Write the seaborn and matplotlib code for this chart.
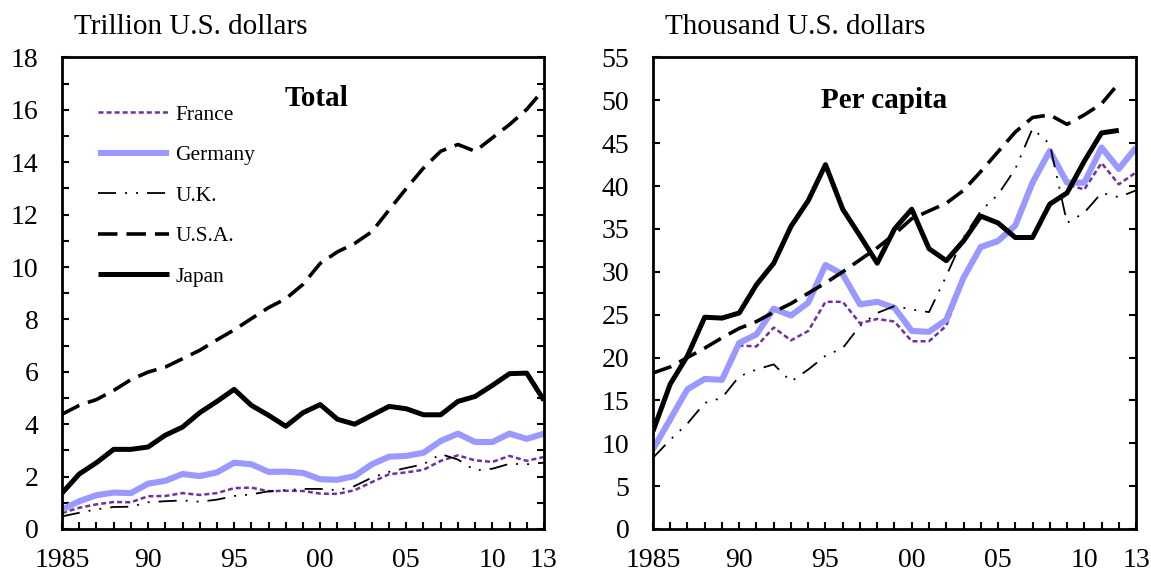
import numpy as np
import pandas as pd
import matplotlib.pyplot as plt
import seaborn as sns

#%% data
years = list(range(1985, 2014))
countries = ['France', 'Germany', 'U.K.', 'U.S.A.', 'Japan']

# Total, trillion U.S. dollars
france_total = [0.61, 0.81, 0.94, 1.03, 1.02, 1.25, 1.26, 1.37, 1.30, 1.37, 1.56, 1.58, 1.44, 1.46, 1.45,
                1.35, 1.34, 1.48, 1.79, 2.09, 2.16, 2.26, 2.60, 2.81, 2.62, 2.56, 2.79, 2.60, 2.75]
germany_total = [0.74, 1.06, 1.29, 1.39, 1.37, 1.73, 1.84, 2.10, 2.02, 2.16, 2.53, 2.47, 2.18, 2.19, 2.14,
                 1.90, 1.88, 2.02, 2.47, 2.76, 2.79, 2.91, 3.36, 3.64, 3.32, 3.32, 3.64, 3.44, 3.64]
uk_total = [0.48, 0.62, 0.75, 0.84, 0.85, 1.02, 1.06, 1.09, 1.04, 1.12, 1.26, 1.32, 1.44, 1.48, 1.53,
            1.53, 1.48, 1.64, 1.96, 2.18, 2.33, 2.47, 2.86, 2.65, 2.24, 2.30, 2.49, 2.47, 2.53]
usa_total = [4.38, 4.72, 4.94, 5.29, 5.70, 5.99, 6.18, 6.50, 6.82, 7.22, 7.60, 8.03, 8.45, 8.79, 9.34,
             10.14, 10.58, 10.90, 11.35, 12.18, 13.00, 13.78, 14.42, 14.68, 14.42, 14.93, 15.44, 16.02, 16.79]
japan_total = [1.37, 2.10, 2.53, 3.04, 3.04, 3.13, 3.58, 3.89, 4.44, 4.87, 5.33, 4.72, 4.34, 3.92, 4.44,
               4.75, 4.19, 4.00, 4.34, 4.68, 4.59, 4.36, 4.36, 4.87, 5.06, 5.48, 5.93, 5.95, 4.91]

# Per capita, thousand U.S. dollars (Japan and U.S.A. stop at 2012)
france_pc = [9.1, 12.4, 16.3, 17.5, 17.5, 21.4, 21.3, 23.5, 22.0, 23.1, 26.5, 26.5, 24.0, 24.5, 24.2,
             21.9, 21.9, 23.7, 29.1, 32.7, 33.4, 35.2, 40.0, 44.1, 40.2, 39.6, 42.7, 40.2, 41.6]
germany_pc = [9.3, 12.8, 16.3, 17.5, 17.4, 21.7, 22.7, 25.7, 24.9, 26.4, 30.8, 29.7, 26.2, 26.5, 25.8,
              23.1, 23.0, 24.4, 29.3, 32.9, 33.6, 35.4, 40.4, 44.1, 40.4, 40.4, 44.5, 42.0, 44.5]
uk_pc = [8.3, 10.4, 12.3, 14.7, 15.3, 17.8, 18.6, 19.2, 17.2, 18.6, 20.2, 21.1, 23.7, 25.2, 26.0,
         25.6, 25.3, 29.5, 34.0, 37.1, 39.0, 42.0, 46.7, 44.9, 35.7, 36.9, 39.2, 38.7, 39.5]
usa_pc = [18.2, 18.9, 20.0, 21.1, 22.3, 23.4, 24.2, 25.3, 26.3, 27.5, 28.7, 30.0, 31.4, 32.8, 34.4,
          36.2, 37.1, 38.0, 39.5, 41.7, 44.0, 46.3, 48.0, 48.3, 47.2, 48.3, 49.6, 52.0, np.nan]
japan_pc = [11.4, 16.9, 20.2, 24.7, 24.6, 25.2, 28.5, 31.0, 35.3, 38.3, 42.5, 37.3, 34.2, 31.0, 35.0,
            37.3, 32.7, 31.3, 33.6, 36.5, 35.7, 34.0, 34.0, 37.9, 39.2, 42.9, 46.2, 46.5, np.nan]

xtick_labels = {1985: '1985', 1990: '90', 1995: '95', 2000: '00', 2005: '05', 2010: '10', 2013: '13'}

#%% styles
sns.set_style('ticks')
plt.rcParams['font.family'] = ['Liberation Serif', 'DejaVu Serif']
plt.rcParams['lines.scale_dashes'] = False
plt.rcParams['text.color'] = 'black'
plt.rcParams['axes.edgecolor'] = 'black'
plt.rcParams['xtick.color'] = 'black'
plt.rcParams['ytick.color'] = 'black'
plt.rcParams['xtick.labelcolor'] = 'black'
plt.rcParams['ytick.labelcolor'] = 'black'

styles = {
    'France':  dict(color='#7030A0', linewidth=1.8, linestyle=(0, (3.6, 2.2))),
    'Germany': dict(color='#9999FF', linewidth=4.4, linestyle='-'),
    'U.K.':    dict(color='black', linewidth=1.3, linestyle=(0, (13, 6.5, 1.4, 6.5, 1.4, 6.5))),
    'U.S.A.':  dict(color='black', linewidth=2.6, linestyle=(0, (14, 6.5))),
    'Japan':   dict(color='black', linewidth=3.6, linestyle='-'),
}

total = dict(zip(countries, [france_total, germany_total, uk_total, usa_total, japan_total]))
per_cap = dict(zip(countries, [france_pc, germany_pc, uk_pc, usa_pc, japan_pc]))

fig = plt.figure(figsize=(11.51, 5.72), dpi=100)
ax1 = fig.add_axes([0.0539, 0.0752, 0.4187, 0.8243])
ax2 = fig.add_axes([0.5673, 0.0752, 0.4197, 0.8243])


def draw(ax, series, ymax, ystep, ylabels_every):
    for c in countries:
        df = pd.DataFrame({'year': years, 'val': series[c]}).dropna()
        sns.lineplot(data=df, x='year', y='val', ax=ax, label=c,
                     solid_capstyle='butt', dash_capstyle='butt', **styles[c])
    ax.set_xlim(1985, 2013)
    ax.set_ylim(0, ymax)
    ax.set_xticks(years)
    ax.set_xticklabels([xtick_labels.get(y, '') for y in years])
    ax.set_yticks(np.arange(0, ymax + 0.1, ylabels_every))
    ax.set_yticks(np.arange(0, ymax + 0.1, ystep), minor=True)
    ax.tick_params(axis='both', which='both', direction='in', length=5, width=1.5,
                   labelsize=20, right=True, top=False, colors='black')
    ax.tick_params(axis='x', pad=14)
    ax.tick_params(axis='y', pad=17)
    ax.set_xlabel('')
    ax.set_ylabel('')
    for s in ax.spines.values():
        s.set_linewidth(2.0)
        s.set_color('black')
        s.set_visible(True)
    ax.get_legend().remove()


draw(ax1, total, 18, 1, 2)
draw(ax2, per_cap, 55, 5, 5)

ax1.text(0.527, 0.914, 'Total', transform=ax1.transAxes, ha='center', va='center',
         fontsize=21, fontweight='bold')
ax2.text(0.478, 0.908, 'Per capita', transform=ax2.transAxes, ha='center', va='center',
         fontsize=21, fontweight='bold')

fig.text(74 / 1151, 1 - 27 / 572, 'Trillion U.S. dollars', ha='left', va='center', fontsize=21)
fig.text(665 / 1151, 1 - 27 / 572, 'Thousand U.S. dollars', ha='left', va='center', fontsize=21)

handles, labels = ax1.get_legend_handles_labels()
ax1.legend(handles, labels, loc='upper left', bbox_to_anchor=(0.0745, 0.90), frameon=False,
           fontsize=15.5, handlelength=3.3, handletextpad=0.3, labelspacing=0.95,
           borderpad=0, borderaxespad=0)

plt.savefig('out.png', dpi=100)
